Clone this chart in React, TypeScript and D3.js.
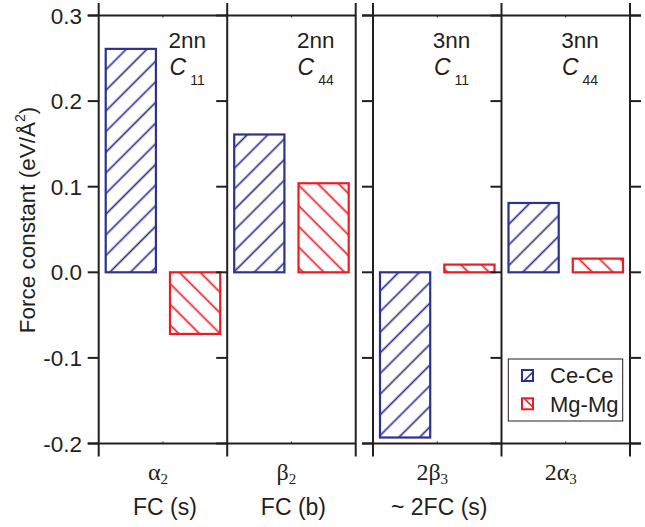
import React from "react";
import * as d3 from "d3";

// values
const blocks = ["2nn", "3nn"];
const shellLabels = ["2nn", "2nn", "3nn", "3nn"];
const elasticSubs = ["11", "44", "11", "44"];
const greekLabels = ["α", "β", "2β", "2α"];
const greekSubs = ["2", "2", "3", "3"];
const fcLabels = ["FC (s)", "FC (b)", "~ 2FC (s)", ""];
const seriesNames = ["Ce-Ce", "Mg-Mg"];
const ceCe = [0.261, 0.161, -0.193, 0.081];
const mgMg = [-0.072, 0.104, 0.009, 0.016];
const yTicks = [-0.2, -0.1, 0.0, 0.1, 0.2, 0.3];

const W = 645;
const H = 527;
const AX = "#231f20";
const BLUE = "#2e3192";
const RED = "#ed1c24";
const SANS = "'Liberation Sans', Arial, Helvetica, sans-serif";
const SERIF = "'Liberation Serif', 'Times New Roman', serif";

export default function App() {
  const y = d3.scaleLinear().domain([-0.2, 0.3]).range([443.5, 15.5]);

  const blockX = d3.scaleBand().domain(blocks).range([98.7, 630]).paddingInner(0.063);
  const bw = blockX.bandwidth();
  const panelX = d3.scaleBand<number>().domain([0, 1]).range([0, bw]);
  const pw = panelX.bandwidth();
  const barX = d3.scaleBand().domain(seriesNames).range([0, pw]).paddingInner(0.219).paddingOuter(0.109);

  const panelLeft = (i: number) => blockX(blocks[Math.floor(i / 2)])! + panelX(i % 2)!;
  const series = [
    { name: seriesNames[0], values: ceCe, color: BLUE, pat: "hatchBlue" },
    { name: seriesNames[1], values: mgMg, color: RED, pat: "hatchRed" },
  ];

  const yTop = y(0.3);
  const yBot = y(-0.2);
  const tickLen = 11;
  const fmt = (t: number) => d3.format(".1f")(t).replace("−", "-");

  return (
    <svg width={W} height={H} style={{ position: "absolute", left: 0, top: 0, background: "#fff" }}>
      <defs>
        <pattern id="hatchBlue" patternUnits="userSpaceOnUse" width={14.6} height={14.6} patternTransform="rotate(45)">
          <line x1={7.3} y1={0} x2={7.3} y2={14.6} stroke={BLUE} strokeWidth={1.7} />
        </pattern>
        <pattern id="hatchRed" patternUnits="userSpaceOnUse" width={14.6} height={14.6} patternTransform="rotate(-45)">
          <line x1={7.3} y1={0} x2={7.3} y2={14.6} stroke={RED} strokeWidth={1.7} />
        </pattern>
      </defs>

      {/* bars */}
      {shellLabels.map((_, i) =>
        series.map((s) => {
          const v = s.values[i];
          const x0 = panelLeft(i) + barX(s.name)!;
          return (
            <rect
              key={s.name + i}
              x={x0}
              y={Math.min(y(v), y(0))}
              width={barX.bandwidth()}
              height={Math.abs(y(v) - y(0))}
              fill={`url(#${s.pat})`}
              stroke={s.color}
              strokeWidth={2.2}
            />
          );
        })
      )}

      {/* frames */}
      {blocks.map((b, bi) => {
        const x0 = blockX(b)!;
        const x1 = x0 + bw;
        const last = bi === blocks.length - 1;
        const hx0 = x0 - tickLen;
        const hx1 = last ? x1 + tickLen : x1;
        return (
          <g key={b} stroke={AX} strokeWidth={2} fill="none">
            <line x1={hx0} x2={hx1} y1={yTop} y2={yTop} />
            <line x1={hx0} x2={hx1} y1={yBot} y2={yBot} />
            {[0, 1].map((p) => {
              const px = x0 + panelX(p)!;
              return (
                <g key={p}>
                  <line x1={px} x2={px} y1={yTop - 12.5} y2={yBot + 13} />
                  {yTicks.map((t) => (
                    <line key={t} x1={px - tickLen} x2={px} y1={y(t)} y2={y(t)} />
                  ))}
                  <line x1={px + pw / 2} x2={px + pw / 2} y1={yTop} y2={yTop + 2} strokeWidth={1} />
                  <line x1={px + pw / 2} x2={px + pw / 2} y1={yBot} y2={yBot - 2} strokeWidth={1} />
                </g>
              );
            })}
            <line x1={x1} x2={x1} y1={yTop - 12.5} y2={yBot + 13} />
            {last &&
              yTicks.map((t) => <line key={t} x1={x1} x2={x1 + tickLen} y1={y(t)} y2={y(t)} />)}
          </g>
        );
      })}

      {/* y tick labels */}
      {yTicks.map((t) => (
        <text
          key={t}
          x={82}
          y={y(t)}
          dy="0.36em"
          textAnchor="end"
          fontFamily={SANS}
          fontSize={22.5}
          fill={AX}
        >
          {fmt(t)}
        </text>
      ))}

      {/* y axis title */}
      <text
        transform={`translate(35, ${220}) rotate(-90)`}
        textAnchor="middle"
        fontFamily={SANS}
        fontSize={22.5}
        fill={AX}
      >
        Force constant (eV/Å<tspan fontSize={14} dy={-10}>2</tspan>
        <tspan dy={10}>)</tspan>
      </text>

      {/* panel labels */}
      {shellLabels.map((lab, i) => {
        const cx = panelLeft(i) + (i < 2 ? 88.5 : 78.5);
        return (
          <g key={"lab" + i} fontFamily={SANS} fill={AX}>
            <text x={cx} y={48} textAnchor="middle" fontSize={22.5}>
              {lab}
            </text>
            <text x={cx} y={75} textAnchor="middle" fontSize={23}>
              <tspan fontStyle="italic">C</tspan>
              <tspan fontSize={14} dx={4} dy={10}>
                {elasticSubs[i]}
              </tspan>
            </text>
          </g>
        );
      })}

      {/* category labels */}
      {greekLabels.map((g, i) => {
        const cx = panelLeft(i) + pw / 2;
        return (
          <g key={"g" + i} fill={AX}>
            <text x={cx - 5} y={480} textAnchor="middle" fontFamily={SERIF} fontSize={24}>
              {g}
              <tspan fontSize={15} dy={4}>
                {greekSubs[i]}
              </tspan>
            </text>
            {fcLabels[i] && (
              <text x={cx + 2} y={515} textAnchor="middle" fontFamily={SANS} fontSize={23}>
                {fcLabels[i]}
              </text>
            )}
          </g>
        );
      })}

      {/* legend */}
      <g>
        <rect x={508.3} y={359} width={114.4} height={62} fill="#fff" stroke={AX} strokeWidth={1} />
        {series.map((s, k) => {
          const sy = 370 + k * 28.3;
          return (
            <g key={s.name}>
              <rect x={522} y={sy} width={11} height={11} fill="#fff" stroke={s.color} strokeWidth={2} />
              {k === 0 ? (
                <line x1={524} y1={sy + 11} x2={533} y2={sy + 2} stroke={s.color} strokeWidth={1.6} />
              ) : (
                <line x1={524} y1={sy} x2={533} y2={sy + 9} stroke={s.color} strokeWidth={1.6} />
              )}
              <text x={550} y={sy + 13.3} fontFamily={SANS} fontSize={22} fill={AX}>
                {s.name}
              </text>
            </g>
          );
        })}
      </g>
    </svg>
  );
}
